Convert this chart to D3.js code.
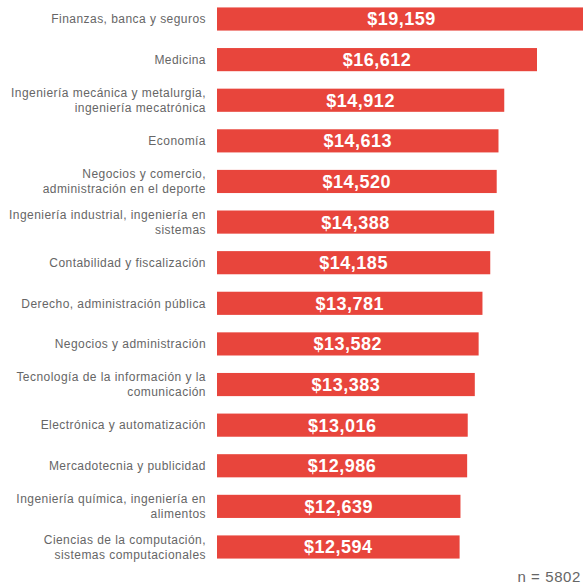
<!DOCTYPE html>
<html>
<head>
<meta charset="utf-8">
<script src="https://cdn.jsdelivr.net/npm/d3@7"></script>
<style>
  html, body { margin: 0; padding: 0; background: #fff; overflow: hidden; }
  svg { display: block; }
</style>
</head>
<body>
<svg id="chart" width="583" height="584"></svg>
<script>
// Fields of study, each label split into its display lines
const categories = [
  ["Finanzas, banca y seguros"],
  ["Medicina"],
  ["Ingeniería mecánica y metalurgia,", "ingeniería mecatrónica"],
  ["Economía"],
  ["Negocios y comercio,", "administración en el deporte"],
  ["Ingeniería industrial, ingeniería en", "sistemas"],
  ["Contabilidad y fiscalización"],
  ["Derecho, administración pública"],
  ["Negocios y administración"],
  ["Tecnología de la información y la", "comunicación"],
  ["Electrónica y automatización"],
  ["Mercadotecnia y publicidad"],
  ["Ingeniería química, ingeniería en", "alimentos"],
  ["Ciencias de la computación,", "sistemas computacionales"]
];
// Average monthly salary (MXN)
const salaries = [19159, 16612, 14912, 14613, 14520, 14388, 14185, 13781, 13582, 13383, 13016, 12986, 12639, 12594];
const sampleNote = "n = 5802";

const svg = d3.select("#chart");
const barColor = "#E8453C";
const textColor = "#666666";
const fontFamily = "'Liberation Sans', Arial, Helvetica, sans-serif";

const x = d3.scaleLinear().domain([0, 16612]).range([217, 537]);
const y = d3.scaleBand()
  .domain(d3.range(salaries.length))
  .range([-1.3, 567.3])
  .paddingInner(0.43)
  .paddingOuter(0.215);

const fmt = d3.format(",");

const rows = svg.selectAll("g.row")
  .data(salaries.map((v, i) => ({ v, i, label: categories[i] })))
  .join("g")
  .attr("class", "row");

rows.append("rect")
  .attr("x", x(0))
  .attr("y", d => y(d.i))
  .attr("width", d => x(d.v) - x(0))
  .attr("height", y.bandwidth())
  .attr("fill", barColor);

rows.append("text")
  .attr("x", d => (x(0) + x(d.v)) / 2)
  .attr("y", d => y(d.i) + y.bandwidth() / 2)
  .attr("dy", "0.36em")
  .attr("text-anchor", "middle")
  .attr("fill", "#fff")
  .attr("font-family", fontFamily)
  .attr("font-size", 18)
  .attr("font-weight", "bold")
  .attr("letter-spacing", 0.5)
  .text(d => "$" + fmt(d.v));

const lineH = 15;
rows.append("text")
  .attr("text-anchor", "end")
  .attr("fill", textColor)
  .attr("font-family", fontFamily)
  .attr("font-size", 12)
  .attr("letter-spacing", 0.45)
  .each(function(d) {
    const t = d3.select(this);
    const cy = y(d.i) + y.bandwidth() / 2;
    const n = d.label.length;
    d.label.forEach((line, k) => {
      t.append("tspan")
        .attr("x", 206)
        .attr("y", cy + (k - (n - 1) / 2) * lineH)
        .attr("dy", "0.35em")
        .text(line);
    });
  });

// Sample size note, kept inside the right edge
svg.append("text")
  .attr("x", 581)
  .attr("y", 582)
  .attr("text-anchor", "end")
  .attr("fill", textColor)
  .attr("font-family", fontFamily)
  .attr("font-size", 15)
  .attr("letter-spacing", 0.6)
  .text(sampleNote);
</script>
</body>
</html>
